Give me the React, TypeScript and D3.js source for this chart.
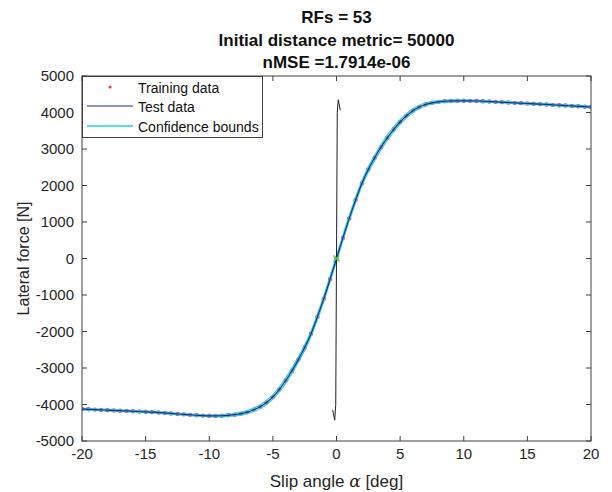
import React from "react";
import * as d3 from "d3";

const W = 612;
const H = 492;

// Data: slip angle [deg] and lateral force [N]
const slipAngles = [
  -20, -19.5, -19, -18.5, -18, -17.5, -17, -16.5, -16, -15.5, -15, -14.5, -14, -13.5, -13, -12.5,
  -12, -11.5, -11, -10.5, -10, -9.5, -9, -8.5, -8, -7.5, -7, -6.5, -6, -5.5, -5, -4.5, -4, -3.5,
  -3, -2.5, -2, -1.5, -1, -0.5, 0, 0.5, 1, 1.5, 2, 2.5, 3, 3.5, 4, 4.5, 5, 5.5, 6, 6.5, 7, 7.5, 8,
  8.5, 9, 9.5, 10, 10.5, 11, 11.5, 12, 12.5, 13, 13.5, 14, 14.5, 15, 15.5, 16, 16.5, 17, 17.5, 18,
  18.5, 19, 19.5, 20,
];
const lateralForce = [
  -4125, -4132, -4140, -4147, -4155, -4162, -4170, -4177, -4185, -4192, -4200, -4210, -4220, -4232,
  -4245, -4258, -4270, -4283, -4295, -4304, -4310, -4312, -4308, -4296, -4278, -4250, -4208, -4145,
  -4060, -3945, -3790, -3590, -3350, -3075, -2770, -2440, -2060, -1600, -1100, -560, 0, 560, 1100,
  1600, 2060, 2440, 2760, 3050, 3310, 3540, 3740, 3910, 4050, 4150, 4220, 4265, 4292, 4308, 4316,
  4320, 4321, 4319, 4315, 4308, 4300, 4292, 4283, 4274, 4265, 4256, 4247, 4238, 4229, 4220, 4210,
  4200, 4190, 4180, 4170, 4160, 4150,
];
// Confidence half-width [N] at each sample
const confHalfWidth = [
  22, 22, 22, 22, 22, 22, 22, 22, 22, 22, 22, 22, 22, 22, 22, 22, 22, 22, 22, 22, 24, 26, 28, 30, 34,
  38, 42, 46, 50, 55, 60, 65, 70, 70, 70, 70, 70, 70, 70, 70, 70, 70, 70, 70, 70, 70, 70, 70, 70, 65,
  60, 55, 50, 46, 42, 38, 34, 30, 28, 26, 24, 22, 22, 22, 22, 22, 22, 22, 22, 22, 22, 22, 22, 22, 22,
  22, 22, 22, 22, 22, 22,
];
// The steep black spike near zero slip
const spikeSlip = [-0.3, -0.14, -0.06, 0.06, 0.14, 0.3];
const spikeForce = [-4150, -4430, -4000, 4000, 4350, 4060];
// Green marker at origin
const markerSlip = [0];
const markerForce = [0];

const xTicks = [-20, -15, -10, -5, 0, 5, 10, 15, 20];
const yTicks = [-5000, -4000, -3000, -2000, -1000, 0, 1000, 2000, 3000, 4000, 5000];
const titleLines = ["RFs = 53", "Initial distance metric= 50000", "nMSE =1.7914e-06"];
const legendItems = ["Training data", "Test data", "Confidence bounds"];

const L = 82, R = 591, T = 76, B = 441;
const FONT = "'Liberation Sans', Arial, Helvetica, sans-serif";
const AX = "#404040";

export default function App() {
  const x = d3.scaleLinear().domain([-20, 20]).range([L, R]);
  const y = d3.scaleLinear().domain([-5000, 5000]).range([B, T]);

  const pts = slipAngles.map((s, i) => ({ s, f: lateralForce[i], c: confHalfWidth[i] }));
  const line = d3
    .line<{ s: number; f: number }>()
    .x((d) => x(d.s))
    .y((d) => y(d.f))
    .curve(d3.curveCatmullRom.alpha(0.5));
  const testPath = line(pts) || "";
  const upperPath = line(pts.map((p) => ({ s: p.s, f: p.f + p.c }))) || "";
  const lowerPath = line(pts.map((p) => ({ s: p.s, f: p.f - p.c }))) || "";
  const spikePath =
    d3
      .line<number>()
      .x((_, i) => x(spikeSlip[i]))
      .y((d) => y(d))(spikeForce) || "";

  const tick = 5;

  return (
    <svg
      width={W}
      height={H}
      style={{ position: "absolute", left: 0, top: 0, background: "#fff" }}
      fontFamily={FONT}
    >
      <rect x={0} y={0} width={W} height={H} fill="#fff" />
      {/* titles */}
      {titleLines.map((t, i) => (
        <text
          key={t}
          x={(L + R) / 2}
          y={23 + i * 22.5}
          textAnchor="middle"
          fontSize={17}
          fontWeight="bold"
          fill="#111"
        >
          {t}
        </text>
      ))}

      <defs>
        <clipPath id="plotclip">
          <rect x={L} y={T} width={R - L} height={B - T} />
        </clipPath>
      </defs>

      <g clipPath="url(#plotclip)">
        {/* training data dots */}
        {pts.map((p, i) => (
          <circle key={i} cx={x(p.s)} cy={y(p.f)} r={2.2} fill="#e8404a" />
        ))}
        <path d={lowerPath} fill="none" stroke="#2ad0e0" strokeWidth={1.3} />
        <path d={upperPath} fill="none" stroke="#2ad0e0" strokeWidth={1.3} />
        <path d={testPath} fill="none" stroke="#1f2a8f" strokeWidth={1.2} />
        <path d={spikePath} fill="none" stroke="#222" strokeWidth={1} />
        {markerSlip.map((s, i) => (
          <g key={i} stroke="#49d049" strokeWidth={1.2}>
            <line x1={x(s) - 3} y1={y(markerForce[i]) - 3} x2={x(s) + 3} y2={y(markerForce[i]) + 3} />
            <line x1={x(s) - 3} y1={y(markerForce[i]) + 3} x2={x(s) + 3} y2={y(markerForce[i]) - 3} />
          </g>
        ))}
      </g>

      {/* axes box */}
      <rect x={L} y={T} width={R - L} height={B - T} fill="none" stroke={AX} strokeWidth={1} />
      {xTicks.map((t) => (
        <g key={"x" + t}>
          <line x1={x(t)} x2={x(t)} y1={B} y2={B - tick} stroke={AX} />
          <line x1={x(t)} x2={x(t)} y1={T} y2={T + tick} stroke={AX} />
          <text x={x(t)} y={B + 18} textAnchor="middle" fontSize={15} fill="#262626">
            {t}
          </text>
        </g>
      ))}
      {yTicks.map((t) => (
        <g key={"y" + t}>
          <line x1={L} x2={L + tick} y1={y(t)} y2={y(t)} stroke={AX} />
          <line x1={R} x2={R - tick} y1={y(t)} y2={y(t)} stroke={AX} />
          <text x={L - 8} y={y(t) + 5} textAnchor="end" fontSize={15} fill="#262626">
            {t}
          </text>
        </g>
      ))}

      {/* axis labels */}
      <text x={(L + R) / 2} y={487} textAnchor="middle" fontSize={17} fill="#262626">
        Slip angle <tspan fontStyle="italic" fontFamily="'DejaVu Serif', serif">α</tspan> [deg]
      </text>
      <text
        transform={`translate(29, ${(T + B) / 2}) rotate(-90)`}
        textAnchor="middle"
        fontSize={16}
        fill="#262626"
      >
        Lateral force [N]
      </text>

      {/* legend */}
      <g>
        <rect x={L + 0.5} y={T + 0.5} width={180} height={61} fill="#fff" stroke={AX} strokeWidth={1} />
        <circle cx={110} cy={87} r={1.6} fill="#e8404a" />
        <line x1={87} x2={133} y1={106} y2={106} stroke="#1f2a8f" strokeWidth={1.2} />
        <line x1={87} x2={133} y1={126} y2={126} stroke="#2ad0e0" strokeWidth={1.3} />
        {legendItems.map((t, i) => (
          <text key={t} x={138} y={92.5 + i * 19.5} fontSize={14} fill="#111">
            {t}
          </text>
        ))}
      </g>
    </svg>
  );
}
